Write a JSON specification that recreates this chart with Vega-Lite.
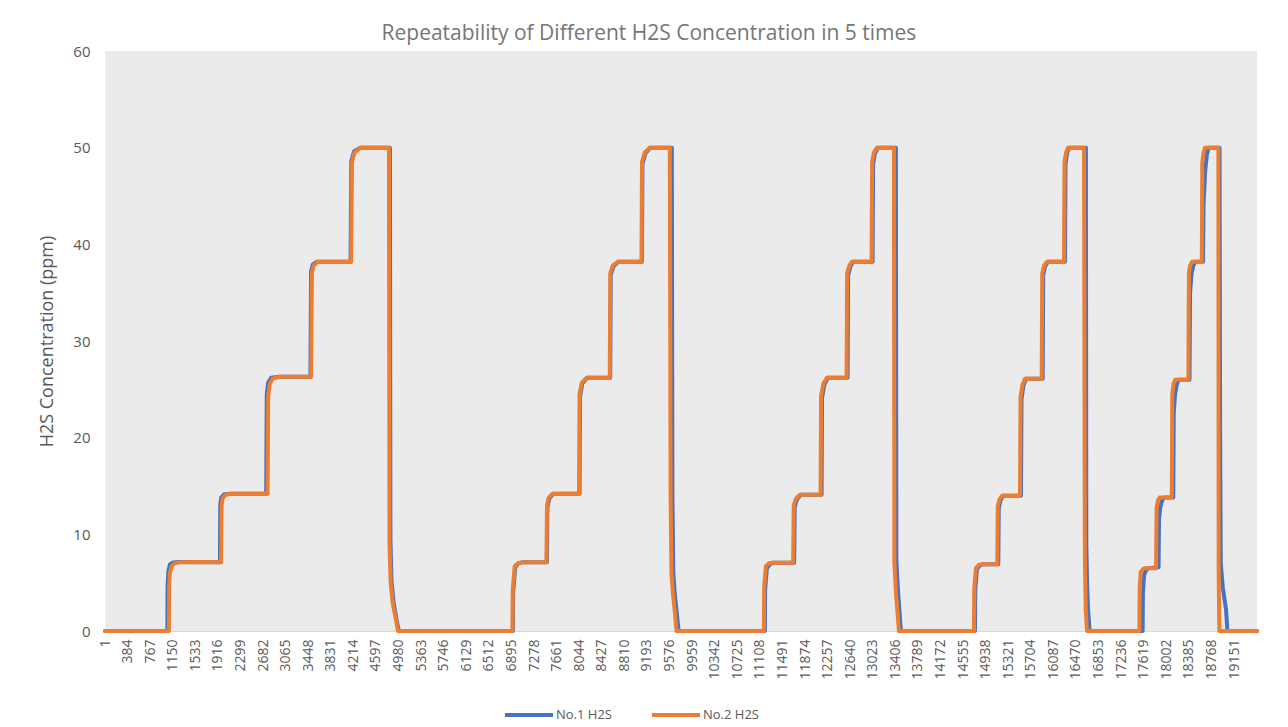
{
  "$schema": "https://vega.github.io/schema/vega-lite/v6.json",
  "width": 1152,
  "height": 580,
  "autosize": {"type": "pad"},
  "padding": {"left": 38, "top": 23, "right": 31, "bottom": 5},
  "background": "white",
  "title": {"text": "Repeatability of Different H2S Concentration in 5 times", "font": "Open Sans", "fontSize": 21, "fontWeight": "normal", "color": "#767676", "offset": 0, "anchor": "middle", "frame": "bounds"},
  "config": {"view": {"fill": "#ebebeb", "stroke": null}, "font": "Open Sans"},
  "datasets": {
    "h2s": [
      {"i":1,"v":0,"s":"No.1 H2S"},{"i":1058,"v":0,"s":"No.1 H2S"},{"i":1063,"v":4.8,"s":"No.1 H2S"},{"i":1076,"v":6.2,"s":"No.1 H2S"},{"i":1105,"v":6.9,"s":"No.1 H2S"},{"i":1160,"v":7.1,"s":"No.1 H2S"},{"i":1250,"v":7.15,"s":"No.1 H2S"},{"i":1950,"v":7.1,"s":"No.1 H2S"},{"i":1956,"v":13.0,"s":"No.1 H2S"},{"i":1972,"v":13.8,"s":"No.1 H2S"},{"i":2025,"v":14.15,"s":"No.1 H2S"},{"i":2130,"v":14.2,"s":"No.1 H2S"},{"i":2735,"v":14.2,"s":"No.1 H2S"},{"i":2745,"v":24.5,"s":"No.1 H2S"},{"i":2768,"v":25.7,"s":"No.1 H2S"},{"i":2820,"v":26.2,"s":"No.1 H2S"},{"i":2950,"v":26.3,"s":"No.1 H2S"},{"i":3485,"v":26.3,"s":"No.1 H2S"},{"i":3496,"v":37.2,"s":"No.1 H2S"},{"i":3525,"v":37.9,"s":"No.1 H2S"},{"i":3595,"v":38.2,"s":"No.1 H2S"},{"i":4166,"v":38.2,"s":"No.1 H2S"},{"i":4178,"v":48.6,"s":"No.1 H2S"},{"i":4225,"v":49.6,"s":"No.1 H2S"},{"i":4330,"v":50,"s":"No.1 H2S"},{"i":4834,"v":50,"s":"No.1 H2S"},{"i":4842,"v":9.5,"s":"No.1 H2S"},{"i":4860,"v":5.2,"s":"No.1 H2S"},{"i":4895,"v":3.0,"s":"No.1 H2S"},{"i":4945,"v":1.2,"s":"No.1 H2S"},{"i":4985,"v":0,"s":"No.1 H2S"},
      {"i":6919,"v":0,"s":"No.1 H2S"},{"i":6924,"v":4.0,"s":"No.1 H2S"},{"i":6960,"v":6.6,"s":"No.1 H2S"},{"i":7010,"v":7.0,"s":"No.1 H2S"},{"i":7080,"v":7.1,"s":"No.1 H2S"},{"i":7496,"v":7.1,"s":"No.1 H2S"},{"i":7505,"v":12.8,"s":"No.1 H2S"},{"i":7537,"v":13.7,"s":"No.1 H2S"},{"i":7605,"v":14.2,"s":"No.1 H2S"},{"i":8050,"v":14.2,"s":"No.1 H2S"},{"i":8059,"v":24.3,"s":"No.1 H2S"},{"i":8097,"v":25.6,"s":"No.1 H2S"},{"i":8182,"v":26.2,"s":"No.1 H2S"},{"i":8570,"v":26.2,"s":"No.1 H2S"},{"i":8579,"v":36.8,"s":"No.1 H2S"},{"i":8623,"v":37.7,"s":"No.1 H2S"},{"i":8708,"v":38.2,"s":"No.1 H2S"},{"i":9108,"v":38.2,"s":"No.1 H2S"},{"i":9117,"v":48.3,"s":"No.1 H2S"},{"i":9166,"v":49.4,"s":"No.1 H2S"},{"i":9250,"v":50,"s":"No.1 H2S"},{"i":9615,"v":50,"s":"No.1 H2S"},{"i":9625,"v":14,"s":"No.1 H2S"},{"i":9640,"v":6.0,"s":"No.1 H2S"},{"i":9665,"v":3.8,"s":"No.1 H2S"},{"i":9700,"v":1.8,"s":"No.1 H2S"},{"i":9730,"v":0,"s":"No.1 H2S"},
      {"i":11193,"v":0,"s":"No.1 H2S"},{"i":11198,"v":4.3,"s":"No.1 H2S"},{"i":11227,"v":6.5,"s":"No.1 H2S"},{"i":11278,"v":6.9,"s":"No.1 H2S"},{"i":11330,"v":7.05,"s":"No.1 H2S"},{"i":11690,"v":7.05,"s":"No.1 H2S"},{"i":11699,"v":12.8,"s":"No.1 H2S"},{"i":11736,"v":13.6,"s":"No.1 H2S"},{"i":11804,"v":14.1,"s":"No.1 H2S"},{"i":12155,"v":14.1,"s":"No.1 H2S"},{"i":12163,"v":24.1,"s":"No.1 H2S"},{"i":12202,"v":25.5,"s":"No.1 H2S"},{"i":12262,"v":26.2,"s":"No.1 H2S"},{"i":12596,"v":26.2,"s":"No.1 H2S"},{"i":12605,"v":36.8,"s":"No.1 H2S"},{"i":12644,"v":37.7,"s":"No.1 H2S"},{"i":12686,"v":38.2,"s":"No.1 H2S"},{"i":13020,"v":38.2,"s":"No.1 H2S"},{"i":13029,"v":48.3,"s":"No.1 H2S"},{"i":13059,"v":49.4,"s":"No.1 H2S"},{"i":13110,"v":50,"s":"No.1 H2S"},{"i":13415,"v":50,"s":"No.1 H2S"},{"i":13424,"v":7.2,"s":"No.1 H2S"},{"i":13450,"v":4.2,"s":"No.1 H2S"},{"i":13475,"v":2.1,"s":"No.1 H2S"},{"i":13500,"v":0,"s":"No.1 H2S"},
      {"i":14756,"v":0,"s":"No.1 H2S"},{"i":14762,"v":4.3,"s":"No.1 H2S"},{"i":14790,"v":6.4,"s":"No.1 H2S"},{"i":14841,"v":6.8,"s":"No.1 H2S"},{"i":14892,"v":6.9,"s":"No.1 H2S"},{"i":15152,"v":6.9,"s":"No.1 H2S"},{"i":15160,"v":12.7,"s":"No.1 H2S"},{"i":15189,"v":13.5,"s":"No.1 H2S"},{"i":15232,"v":14.0,"s":"No.1 H2S"},{"i":15537,"v":14.0,"s":"No.1 H2S"},{"i":15546,"v":24.0,"s":"No.1 H2S"},{"i":15579,"v":25.4,"s":"No.1 H2S"},{"i":15622,"v":26.1,"s":"No.1 H2S"},{"i":15905,"v":26.1,"s":"No.1 H2S"},{"i":15914,"v":36.8,"s":"No.1 H2S"},{"i":15944,"v":37.7,"s":"No.1 H2S"},{"i":15995,"v":38.2,"s":"No.1 H2S"},{"i":16284,"v":38.2,"s":"No.1 H2S"},{"i":16292,"v":48.3,"s":"No.1 H2S"},{"i":16318,"v":49.4,"s":"No.1 H2S"},{"i":16352,"v":50,"s":"No.1 H2S"},{"i":16638,"v":50,"s":"No.1 H2S"},{"i":16645,"v":9.0,"s":"No.1 H2S"},{"i":16660,"v":4.5,"s":"No.1 H2S"},{"i":16675,"v":2.2,"s":"No.1 H2S"},{"i":16700,"v":0,"s":"No.1 H2S"},
      {"i":17600,"v":0,"s":"No.1 H2S"},{"i":17605,"v":4.0,"s":"No.1 H2S"},{"i":17625,"v":5.8,"s":"No.1 H2S"},{"i":17660,"v":6.3,"s":"No.1 H2S"},{"i":17700,"v":6.5,"s":"No.1 H2S"},{"i":17870,"v":6.6,"s":"No.1 H2S"},{"i":17878,"v":11.5,"s":"No.1 H2S"},{"i":17900,"v":12.8,"s":"No.1 H2S"},{"i":17930,"v":13.5,"s":"No.1 H2S"},{"i":17960,"v":13.8,"s":"No.1 H2S"},{"i":18120,"v":13.8,"s":"No.1 H2S"},{"i":18128,"v":22.5,"s":"No.1 H2S"},{"i":18150,"v":24.5,"s":"No.1 H2S"},{"i":18180,"v":25.5,"s":"No.1 H2S"},{"i":18210,"v":26.0,"s":"No.1 H2S"},{"i":18395,"v":26.0,"s":"No.1 H2S"},{"i":18405,"v":35.0,"s":"No.1 H2S"},{"i":18430,"v":37.0,"s":"No.1 H2S"},{"i":18460,"v":37.8,"s":"No.1 H2S"},{"i":18490,"v":38.2,"s":"No.1 H2S"},{"i":18625,"v":38.2,"s":"No.1 H2S"},{"i":18633,"v":44.0,"s":"No.1 H2S"},{"i":18660,"v":47.5,"s":"No.1 H2S"},{"i":18690,"v":49.3,"s":"No.1 H2S"},{"i":18720,"v":50,"s":"No.1 H2S"},{"i":18905,"v":50,"s":"No.1 H2S"},{"i":18915,"v":20,"s":"No.1 H2S"},{"i":18925,"v":7.0,"s":"No.1 H2S"},{"i":18960,"v":4.5,"s":"No.1 H2S"},{"i":19015,"v":2.2,"s":"No.1 H2S"},{"i":19038,"v":0,"s":"No.1 H2S"},{"i":19540,"v":0,"s":"No.1 H2S"},
      {"i":1,"v":0,"s":"No.2 H2S"},{"i":1084,"v":0,"s":"No.2 H2S"},{"i":1089,"v":4.6,"s":"No.2 H2S"},{"i":1101,"v":6.0,"s":"No.2 H2S"},{"i":1130,"v":6.7,"s":"No.2 H2S"},{"i":1180,"v":7.0,"s":"No.2 H2S"},{"i":1265,"v":7.1,"s":"No.2 H2S"},{"i":1605,"v":7.15,"s":"No.2 H2S"},{"i":1970,"v":7.1,"s":"No.2 H2S"},{"i":1978,"v":12.9,"s":"No.2 H2S"},{"i":1995,"v":13.7,"s":"No.2 H2S"},{"i":2046,"v":14.1,"s":"No.2 H2S"},{"i":2148,"v":14.2,"s":"No.2 H2S"},{"i":2759,"v":14.2,"s":"No.2 H2S"},{"i":2769,"v":24.2,"s":"No.2 H2S"},{"i":2793,"v":25.5,"s":"No.2 H2S"},{"i":2843,"v":26.1,"s":"No.2 H2S"},{"i":2962,"v":26.3,"s":"No.2 H2S"},{"i":3497,"v":26.3,"s":"No.2 H2S"},{"i":3510,"v":37.0,"s":"No.2 H2S"},{"i":3539,"v":37.8,"s":"No.2 H2S"},{"i":3607,"v":38.2,"s":"No.2 H2S"},{"i":4176,"v":38.2,"s":"No.2 H2S"},{"i":4189,"v":48.5,"s":"No.2 H2S"},{"i":4235,"v":49.5,"s":"No.2 H2S"},{"i":4337,"v":50,"s":"No.2 H2S"},{"i":4817,"v":50,"s":"No.2 H2S"},{"i":4826,"v":9.1,"s":"No.2 H2S"},{"i":4846,"v":5.0,"s":"No.2 H2S"},{"i":4880,"v":2.9,"s":"No.2 H2S"},{"i":4931,"v":1.3,"s":"No.2 H2S"},{"i":4970,"v":0,"s":"No.2 H2S"},
      {"i":6911,"v":0,"s":"No.2 H2S"},{"i":6916,"v":4.2,"s":"No.2 H2S"},{"i":6950,"v":6.7,"s":"No.2 H2S"},{"i":7001,"v":7.0,"s":"No.2 H2S"},{"i":7069,"v":7.1,"s":"No.2 H2S"},{"i":7488,"v":7.1,"s":"No.2 H2S"},{"i":7497,"v":13.0,"s":"No.2 H2S"},{"i":7527,"v":13.8,"s":"No.2 H2S"},{"i":7595,"v":14.2,"s":"No.2 H2S"},{"i":8041,"v":14.2,"s":"No.2 H2S"},{"i":8050,"v":24.5,"s":"No.2 H2S"},{"i":8087,"v":25.7,"s":"No.2 H2S"},{"i":8172,"v":26.2,"s":"No.2 H2S"},{"i":8562,"v":26.2,"s":"No.2 H2S"},{"i":8571,"v":37.0,"s":"No.2 H2S"},{"i":8613,"v":37.8,"s":"No.2 H2S"},{"i":8698,"v":38.2,"s":"No.2 H2S"},{"i":9100,"v":38.2,"s":"No.2 H2S"},{"i":9109,"v":48.5,"s":"No.2 H2S"},{"i":9156,"v":49.5,"s":"No.2 H2S"},{"i":9241,"v":50,"s":"No.2 H2S"},{"i":9581,"v":50,"s":"No.2 H2S"},{"i":9594,"v":14.2,"s":"No.2 H2S"},{"i":9609,"v":6.0,"s":"No.2 H2S"},{"i":9632,"v":4.0,"s":"No.2 H2S"},{"i":9665,"v":2.0,"s":"No.2 H2S"},{"i":9694,"v":0,"s":"No.2 H2S"},
      {"i":11176,"v":0,"s":"No.2 H2S"},{"i":11181,"v":4.5,"s":"No.2 H2S"},{"i":11210,"v":6.7,"s":"No.2 H2S"},{"i":11261,"v":7.0,"s":"No.2 H2S"},{"i":11312,"v":7.05,"s":"No.2 H2S"},{"i":11673,"v":7.05,"s":"No.2 H2S"},{"i":11682,"v":13.0,"s":"No.2 H2S"},{"i":11719,"v":13.7,"s":"No.2 H2S"},{"i":11787,"v":14.1,"s":"No.2 H2S"},{"i":12138,"v":14.1,"s":"No.2 H2S"},{"i":12146,"v":24.3,"s":"No.2 H2S"},{"i":12185,"v":25.6,"s":"No.2 H2S"},{"i":12245,"v":26.2,"s":"No.2 H2S"},{"i":12579,"v":26.2,"s":"No.2 H2S"},{"i":12588,"v":37.0,"s":"No.2 H2S"},{"i":12627,"v":37.8,"s":"No.2 H2S"},{"i":12669,"v":38.2,"s":"No.2 H2S"},{"i":13003,"v":38.2,"s":"No.2 H2S"},{"i":13012,"v":48.5,"s":"No.2 H2S"},{"i":13042,"v":49.5,"s":"No.2 H2S"},{"i":13093,"v":50,"s":"No.2 H2S"},{"i":13382,"v":50,"s":"No.2 H2S"},{"i":13390,"v":7.0,"s":"No.2 H2S"},{"i":13416,"v":4.0,"s":"No.2 H2S"},{"i":13441,"v":2.0,"s":"No.2 H2S"},{"i":13467,"v":0,"s":"No.2 H2S"},
      {"i":14739,"v":0,"s":"No.2 H2S"},{"i":14745,"v":4.5,"s":"No.2 H2S"},{"i":14773,"v":6.5,"s":"No.2 H2S"},{"i":14824,"v":6.85,"s":"No.2 H2S"},{"i":14875,"v":6.9,"s":"No.2 H2S"},{"i":15135,"v":6.9,"s":"No.2 H2S"},{"i":15143,"v":12.9,"s":"No.2 H2S"},{"i":15172,"v":13.6,"s":"No.2 H2S"},{"i":15215,"v":14.0,"s":"No.2 H2S"},{"i":15520,"v":14.0,"s":"No.2 H2S"},{"i":15529,"v":24.2,"s":"No.2 H2S"},{"i":15562,"v":25.5,"s":"No.2 H2S"},{"i":15605,"v":26.1,"s":"No.2 H2S"},{"i":15888,"v":26.1,"s":"No.2 H2S"},{"i":15897,"v":37.0,"s":"No.2 H2S"},{"i":15927,"v":37.8,"s":"No.2 H2S"},{"i":15978,"v":38.2,"s":"No.2 H2S"},{"i":16267,"v":38.2,"s":"No.2 H2S"},{"i":16275,"v":48.5,"s":"No.2 H2S"},{"i":16301,"v":49.5,"s":"No.2 H2S"},{"i":16335,"v":50,"s":"No.2 H2S"},{"i":16606,"v":50,"s":"No.2 H2S"},{"i":16620,"v":8.0,"s":"No.2 H2S"},{"i":16635,"v":2.2,"s":"No.2 H2S"},{"i":16657,"v":0,"s":"No.2 H2S"},
      {"i":17545,"v":0,"s":"No.2 H2S"},{"i":17550,"v":4.5,"s":"No.2 H2S"},{"i":17568,"v":6.1,"s":"No.2 H2S"},{"i":17607,"v":6.4,"s":"No.2 H2S"},{"i":17641,"v":6.5,"s":"No.2 H2S"},{"i":17828,"v":6.5,"s":"No.2 H2S"},{"i":17837,"v":12.8,"s":"No.2 H2S"},{"i":17862,"v":13.5,"s":"No.2 H2S"},{"i":17887,"v":13.8,"s":"No.2 H2S"},{"i":18094,"v":13.8,"s":"No.2 H2S"},{"i":18103,"v":24.5,"s":"No.2 H2S"},{"i":18125,"v":25.6,"s":"No.2 H2S"},{"i":18150,"v":26.0,"s":"No.2 H2S"},{"i":18376,"v":26.0,"s":"No.2 H2S"},{"i":18385,"v":37.0,"s":"No.2 H2S"},{"i":18405,"v":37.8,"s":"No.2 H2S"},{"i":18439,"v":38.2,"s":"No.2 H2S"},{"i":18604,"v":38.2,"s":"No.2 H2S"},{"i":18612,"v":48.5,"s":"No.2 H2S"},{"i":18634,"v":49.5,"s":"No.2 H2S"},{"i":18660,"v":50,"s":"No.2 H2S"},{"i":18885,"v":50,"s":"No.2 H2S"},{"i":18890,"v":5.5,"s":"No.2 H2S"},{"i":18902,"v":0,"s":"No.2 H2S"},{"i":19540,"v":0,"s":"No.2 H2S"}
    ]
  },
  "data": {"name": "h2s"},
  "mark": {"type": "line", "strokeWidth": 4, "strokeJoin": "round", "strokeCap": "round"},
  "encoding": {
    "x": {
      "field": "i", "type": "quantitative",
      "scale": {"domain": [1, 19540], "nice": false, "zero": false},
      "axis": {
        "values": [1,384,767,1150,1533,1916,2299,2682,3065,3448,3831,4214,4597,4980,5363,5746,6129,6512,6895,7278,7661,8044,8427,8810,9193,9576,9959,10342,10725,11108,11491,11874,12257,12640,13023,13406,13789,14172,14555,14938,15321,15704,16087,16470,16853,17236,17619,18002,18385,18768,19151],
        "format": "d", "labelAngle": -90, "labelFontSize": 14, "labelColor": "#595959", "labelFont": "Open Sans",
        "ticks": false, "grid": false, "domain": true, "domainColor": "#d9d9d9", "domainWidth": 1,
        "title": null, "labelPadding": 8, "labelOverlap": false, "labelBound": false, "labelFlush": false
      }
    },
    "y": {
      "field": "v", "type": "quantitative",
      "scale": {"domain": [0, 60], "nice": false},
      "axis": {
        "values": [0,10,20,30,40,50,60], "grid": false, "domain": false, "ticks": false,
        "labelFontSize": 15, "labelColor": "#595959", "labelFont": "Open Sans", "labelPadding": 15,
        "title": "H2S Concentration (ppm)", "titleFontSize": 18, "titleFontWeight": "normal", "titleColor": "#595959", "titleFont": "Open Sans", "titlePadding": 16
      }
    },
    "color": {
      "field": "s", "type": "nominal",
      "scale": {"domain": ["No.1 H2S", "No.2 H2S"], "range": ["#4472C4", "#ED7D31"]},
      "legend": {
        "title": null, "orient": "none", "direction": "horizontal", "legendX": 398, "legendY": 638,
        "symbolType": "stroke", "symbolSize": 2304, "symbolStrokeWidth": 4,
        "labelFontSize": 13, "labelColor": "#595959", "labelFont": "Open Sans", "labelOffset": 1, "columnPadding": 32
      }
    }
  }
}
